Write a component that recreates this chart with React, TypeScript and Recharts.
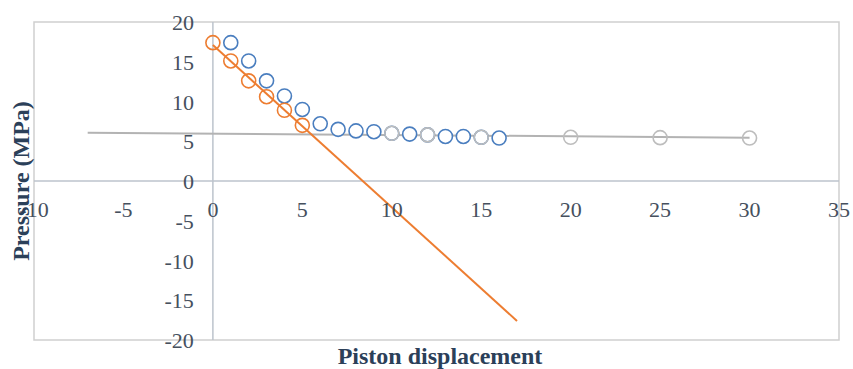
import { ScatterChart, Scatter, XAxis, YAxis, ReferenceLine, ReferenceArea } from "recharts"

// measured data (piston displacement vs pressure)
const blueX = [1, 2, 3, 4, 5, 6, 7, 8, 9, 10, 11, 12, 13, 14, 15, 16]
const blueY = [17.4, 15.1, 12.6, 10.7, 9.0, 7.2, 6.5, 6.3, 6.2, 6.0, 5.9, 5.8, 5.6, 5.6, 5.5, 5.4]

const orangeX = [0, 1, 2, 3, 4, 5]
const orangeY = [17.4, 15.1, 12.6, 10.6, 8.9, 7.0]

const grayX = [10, 12, 15, 20, 25, 30]
const grayY = [6.0, 5.8, 5.5, 5.5, 5.45, 5.4]

// trendline endpoints
const orangeTrendX = [0, 17]
const orangeTrendY = [17.1, -17.6]
const grayTrendX = [-7, 30]
const grayTrendY = [6.07, 5.45]

const xTicks = [-10, -5, 0, 5, 10, 15, 20, 25, 30, 35]
const yTicks = [-20, -15, -10, -5, 0, 5, 10, 15, 20]

const X_MIN = -10
const X_MAX = 35
const Y_MIN = -20
const Y_MAX = 20

const W = 853
const H = 369
const AXIS_SIZE = 1
const margin = { top: 22, right: 14, bottom: 29 - AXIS_SIZE, left: 34 - AXIS_SIZE }

const zip = (xs: number[], ys: number[]) => xs.map((x, i) => ({ x, y: ys[i] }))

// where the axes cross (Excel style axes through the origin)
const plotLeft = margin.left + AXIS_SIZE
const plotTop = margin.top
const plotW = W - plotLeft - margin.right
const plotH = H - plotTop - margin.bottom - AXIS_SIZE
const zeroX = plotLeft + (plotW * (0 - X_MIN)) / (X_MAX - X_MIN)
const zeroY = plotTop + (plotH * (Y_MAX - 0)) / (Y_MAX - Y_MIN)

const SERIF = "Liberation Serif"

function TickText({ x, y, anchor, value }: { x: number; y: number; anchor: string; value: number }) {
  return (
    <text
      x={x}
      y={y}
      textAnchor={anchor}
      fontFamily={SERIF}
      fontSize={22}
      fill="#46505e"
      style={{ fontFamily: SERIF }}
    >
      {value}
    </text>
  )
}

function XTick(props: any) {
  return <TickText x={props.x} y={zeroY + 36} anchor="middle" value={props.payload.value} />
}

function YTick(props: any) {
  return <TickText x={zeroX - 19} y={props.y + 8} anchor="end" value={props.payload.value} />
}

function Ring(props: any) {
  const { cx, cy, stroke, fill } = props
  if (cx == null || cy == null) return <g />
  return <circle cx={cx} cy={cy} r={7} stroke={stroke} strokeWidth={1.6} fill={fill} />
}

const NoShape = () => <g />

const titleStyle = {
  position: "absolute" as const,
  whiteSpace: "nowrap" as const,
  fontFamily: SERIF,
  fontWeight: "bold" as const,
  fontSize: 24,
  color: "#2b4059",
  lineHeight: "24px",
}

export default function App() {
  return (
    <div style={{ position: "relative", width: W, height: H, background: "#fff" }}>
      <style>{`body{margin:0}`}</style>
      <ScatterChart width={W} height={H} margin={margin}>
        <XAxis
          type="number"
          dataKey="x"
          domain={[X_MIN, X_MAX]}
          ticks={xTicks}
          interval={0}
          height={AXIS_SIZE}
          axisLine={false}
          tickLine={false}
          tick={XTick}
          allowDataOverflow
        />
        <YAxis
          type="number"
          dataKey="y"
          domain={[Y_MIN, Y_MAX]}
          ticks={yTicks}
          interval={0}
          width={AXIS_SIZE}
          axisLine={false}
          tickLine={false}
          tick={YTick}
          allowDataOverflow
        />
        <ReferenceArea x1={X_MIN} x2={X_MAX} y1={Y_MIN} y2={Y_MAX} fill="none" stroke="#d0d0d0" strokeWidth={1.5} />
        <ReferenceLine x={0} stroke="#bcc3cc" strokeWidth={1.5} />
        <ReferenceLine y={0} stroke="#bcc3cc" strokeWidth={1.5} />
        <Scatter
          data={zip(grayTrendX, grayTrendY)}
          line={{ stroke: "#b3b3b3", strokeWidth: 2 }}
          shape={<NoShape />}
          isAnimationActive={false}
        />
        <Scatter
          data={zip(blueX, blueY)}
          shape={<Ring stroke="#4a7ebf" fill="#fff" />}
          isAnimationActive={false}
        />
        <Scatter
          data={zip(grayX, grayY)}
          shape={<Ring stroke="#bdbdbd" fill="none" />}
          isAnimationActive={false}
        />
        <Scatter
          data={zip(orangeX, orangeY)}
          shape={<Ring stroke="#ed7d31" fill="none" />}
          isAnimationActive={false}
        />
        <Scatter
          data={zip(orangeTrendX, orangeTrendY)}
          line={{ stroke: "#ed7d31", strokeWidth: 2 }}
          shape={<NoShape />}
          isAnimationActive={false}
        />
      </ScatterChart>
      <div style={{ ...titleStyle, left: 440, top: 344, transform: "translateX(-50%)" }}>
        Piston displacement
      </div>
      <div style={{ ...titleStyle, left: 21, top: 181, transform: "translate(-50%, -50%) rotate(-90deg)" }}>
        Pressure (MPa)
      </div>
    </div>
  )
}
